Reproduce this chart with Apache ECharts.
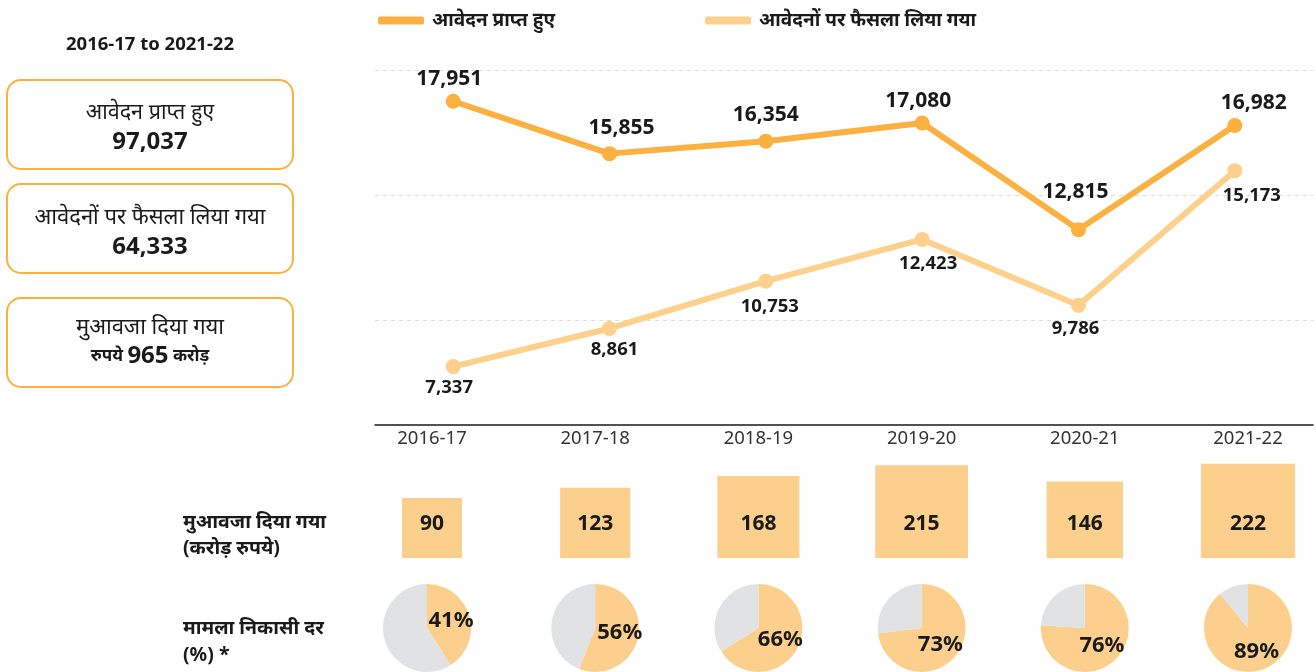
<!DOCTYPE html>
<html><head><meta charset="utf-8">
<script src="https://cdn.jsdelivr.net/npm/echarts@6/dist/echarts.min.js"></script>
<style>html,body{margin:0;padding:0;background:#fff}#c{width:1316px;height:672px}</style>
</head><body><div id="c"></div>
<script>
// ---------- data ----------
const years = ['2016-17', '2017-18', '2018-19', '2019-20', '2020-21', '2021-22'];
const received = [17951, 15855, 16354, 17080, 12815, 16982];
const decided = [7337, 8861, 10753, 12423, 9786, 15173];
const compensation = [90, 123, 168, 215, 146, 222];
const disposalRate = [41, 56, 66, 73, 76, 89];
const gridValues = [9200, 14200, 19200];
const seriesNames = ['आवेदन प्राप्त हुए', 'आवेदनों पर फैसला लिया गया'];
const periodText = '2016-17 to 2021-22';
const compensationTotalText = '965';

// ---------- style / layout ----------
const FONT = "'Noto Sans', 'Noto Sans Devanagari', 'Lohit Devanagari', sans-serif";
const C1 = '#FBB040', C2 = '#FDD08C', CF = '#FCCF8D', CG = '#E1E2E4', TXT = '#1a1a1a';
const nudge1 = [[-4, 0], [12, -4], [0, -4], [-4, 0], [-3, -16], [19, 0]];
const nudge2 = [[-4, 0], [5, 0], [4, 5], [6, 3], [-3, 2], [17, 4]];
const fmt = v => Number(v).toLocaleString('en-US');
const sum = a => a.reduce((s, v) => s + v, 0);

const chart = echarts.init(document.getElementById('c'), null, { renderer: 'canvas' });

const pieSeries = disposalRate.map((r, i) => ({
  id: 'pie' + i, type: 'pie', silent: true, radius: 44, center: [0, 628],
  startAngle: 90, clockwise: true, animation: false,
  itemStyle: { borderWidth: 0 },
  labelLine: { show: false },
  data: [
    { value: r, itemStyle: { color: CF },
      label: { show: true, position: 'inside', formatter: r + '%', fontSize: 22, fontWeight: 'bold', color: TXT, fontFamily: FONT } },
    { value: 100 - r, itemStyle: { color: CG }, label: { show: false } }
  ]
}));

function boxText(x, y, text, size, weight) {
  return { type: 'text', style: { x, y, text, fontSize: size, fontWeight: weight, fill: TXT, fontFamily: FONT, textAlign: 'center', textVerticalAlign: 'middle' } };
}
function rowText(y, text) {
  return { type: 'text', style: { x: 183, y, text, fontSize: 19.5, fontWeight: 'bold', fill: TXT, fontFamily: FONT, textAlign: 'left', textVerticalAlign: 'middle' } };
}
function box(y) {
  return { type: 'rect', shape: { x: 7, y, width: 286, height: 89, r: 14 }, style: { fill: '#fff', stroke: C1, lineWidth: 2 } };
}

const option = {
  animation: false,
  textStyle: { fontFamily: FONT },
  legend: {
    top: 6, left: 373, icon: 'roundRect', itemWidth: 46, itemHeight: 8, itemGap: 150,
    textStyle: { fontSize: 19, fontWeight: 'bold', color: TXT, fontFamily: FONT, padding: [0, 0, 0, 3] },
    data: seriesNames
  },
  grid: [
    { left: 375, right: 3, top: 60, bottom: 247 },
    { left: 432, right: 68, top: 455, height: 103 }
  ],
  xAxis: [
    { gridIndex: 0, type: 'category', data: years, boundaryGap: true,
      axisLine: { lineStyle: { color: TXT, width: 1.5 } }, axisTick: { show: false }, axisLabel: { show: false } },
    { gridIndex: 1, type: 'category', data: years, position: 'top', boundaryGap: false,
      axisLine: { show: false }, axisTick: { show: false },
      axisLabel: { fontSize: 18.5, color: '#333', margin: 7, fontFamily: FONT } }
  ],
  yAxis: [
    { gridIndex: 0, type: 'value', min: 5000, max: 19600, show: false, splitLine: { show: false } },
    { gridIndex: 1, type: 'value', min: 0, max: 1, show: false, splitLine: { show: false } }
  ],
  graphic: [
    boxText(150, 45, periodText, 18.5, 'bold'),
    box(80), box(184), box(298),
    boxText(150, 113, seriesNames[0], 21.5, 'normal'),
    boxText(150, 142, fmt(sum(received)), 24, 'bold'),
    boxText(150, 218, seriesNames[1], 22, 'normal'),
    boxText(150, 247, fmt(sum(decided)), 24, 'bold'),
    boxText(150, 328, 'मुआवजा दिया गया', 22, 'normal'),
    { type: 'text', style: { x: 150, y: 356, text: '{a|रुपये }{b|' + compensationTotalText + '}{a| करोड़}',
      textAlign: 'center', textVerticalAlign: 'middle', fill: TXT, fontFamily: FONT,
      rich: { a: { fontSize: 17, fontWeight: 'bold', fontFamily: FONT, fill: TXT }, b: { fontSize: 24, fontWeight: 'bold', fontFamily: FONT, fill: TXT } } } },
    rowText(522, 'मुआवजा दिया गया'),
    rowText(548, '(करोड़ रुपये)'),
    rowText(628, 'मामला निकासी दर'),
    rowText(655, '(%) *')
  ],
  series: [
    { name: seriesNames[0], type: 'line', xAxisIndex: 0, yAxisIndex: 0, z: 4,
      data: received.map((v, i) => ({ value: v, label: { offset: nudge1[i] } })),
      symbol: 'circle', symbolSize: 15, lineStyle: { width: 6, color: C1 }, itemStyle: { color: C1 },
      label: { show: true, position: 'top', distance: 4, fontSize: 21, fontWeight: 'bold', color: TXT, fontFamily: FONT,
        formatter: p => fmt(p.value) },
      markLine: { silent: true, symbol: 'none', label: { show: false }, z: 1,
        lineStyle: { color: '#dcdcdc', type: [4, 4], width: 1 },
        data: gridValues.map(v => ({ yAxis: v })) } },
    { name: seriesNames[1], type: 'line', xAxisIndex: 0, yAxisIndex: 0, z: 3,
      data: decided.map((v, i) => ({ value: v, label: { offset: nudge2[i] } })),
      symbol: 'circle', symbolSize: 15, lineStyle: { width: 6, color: C2 }, itemStyle: { color: C2 },
      label: { show: true, position: 'bottom', distance: 4, fontSize: 18.5, fontWeight: 'bold', color: TXT, fontFamily: FONT,
        formatter: p => fmt(p.value) } },
    { type: 'scatter', xAxisIndex: 1, yAxisIndex: 1, silent: true,
      data: compensation.map((v, i) => ({ value: [i, 0], symbolSize: 6.3246 * Math.sqrt(v) })),
      symbol: 'rect', symbolOffset: [0, '-50%'], itemStyle: { color: CF, opacity: 1 },
      label: { show: true, position: 'insideBottom', distance: 23, fontSize: 21, fontWeight: 'bold', color: TXT, fontFamily: FONT,
        formatter: p => String(compensation[p.dataIndex]) } },
    ...pieSeries
  ]
};
chart.setOption(option);

// place pies at the category positions of the lower grid's x axis
chart.setOption({
  series: disposalRate.map((r, i) => ({ id: 'pie' + i, center: [chart.convertToPixel({ xAxisIndex: 1 }, i) - (i === 0 ? 5 : 0), 628] }))
});
</script>
</body></html>
